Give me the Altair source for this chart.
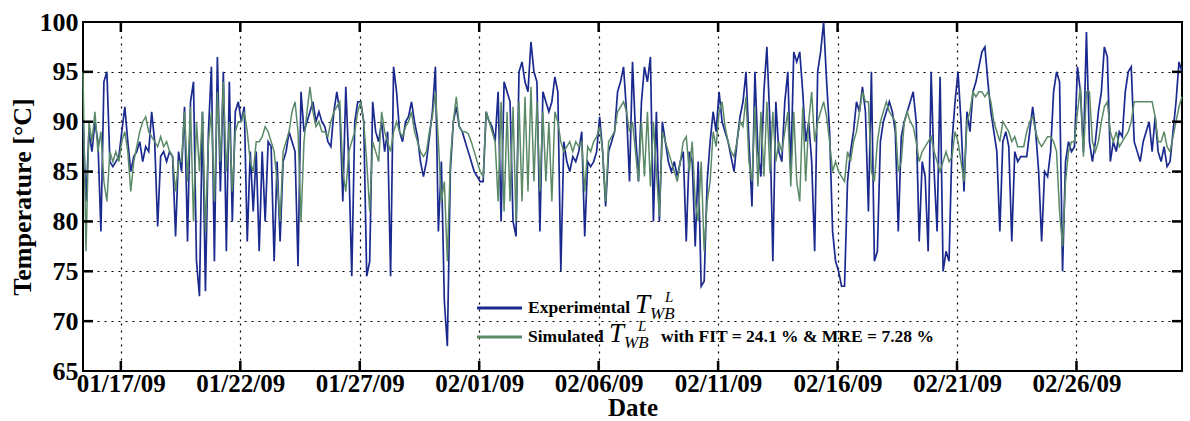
import altair as alt
import pandas as pd

# ---------------- data (3-hour samples starting 2009-01-15 10:00) ----------------
START = "2009-01-15T10:00:00"
STEP = "3h"

EXPERIMENTAL = [
    90, 82, 89, 87, 90, 88, 79, 94, 95, 86, 85.5, 86, 86.5, 89, 91.5, 88, 85, 86.5, 87, 88,
    86, 87.5, 87, 91, 88, 79.5, 86.5, 87, 86, 87, 86.5, 78.5, 87, 85, 91.5, 78, 92, 94, 76, 72.5,
    91, 73, 89, 95.5, 76, 96.5, 83, 95, 77, 94, 80, 91, 92,
    90, 91.5, 78, 87, 81, 87, 77, 87, 80, 88, 87.5, 76, 86, 78, 86, 87, 89, 88, 87, 75.5,
    93, 89, 90, 91, 92, 90, 91, 90, 89.5, 88, 87.5, 91, 93, 91, 82, 93.5, 86, 74.5, 90, 92,
    92, 90, 74.5, 76, 92, 89, 88, 90, 87, 89, 74.5, 95.5, 93,
    89, 88, 90, 90.5, 92, 90, 88.5, 86, 84.5, 86, 88.5, 91, 95.5, 79, 86, 72, 67.5, 85, 90, 91.5,
    89.5, 89, 88, 87, 86, 85, 84.5, 84, 84, 91, 90, 89.5, 88, 93, 80, 94, 93, 92, 80, 78.5,
    95, 96, 94, 93, 98, 95, 94, 79, 93, 92, 91, 92,
    94.5, 93, 75, 88, 86, 85, 86.5, 86, 87, 89, 78.5, 86, 85.5, 86, 87, 90.5, 87, 81.5, 87, 88,
    89, 93, 94, 95.5, 91, 84, 96, 89, 84, 92, 95.5, 94, 96.5, 80, 91, 80, 90, 88, 86, 85,
    86, 84.5, 86, 87, 78, 87, 86, 77.5, 86, 73.5, 74, 84, 88,
    91, 89, 93, 90, 89, 88, 86.5, 85, 88, 90.5, 92, 95, 88, 81.5, 95, 87, 84.5, 93, 97.5, 90,
    76, 92, 87, 86, 92, 95, 85, 97, 96, 97, 93, 88, 90, 86, 77, 95, 97, 100, 94, 89,
    79, 76, 75, 73.5, 73.5, 84, 87, 89, 92, 91, 93.5, 91,
    81, 95, 76, 77, 88, 90, 91, 92, 91, 89, 79, 88.5, 90, 91, 92, 93, 90, 78, 86, 84.5,
    77, 95, 85, 79, 94.5, 75, 77, 76, 88, 92, 95, 90, 83, 91, 89, 93, 94, 95.5, 97, 97.5,
    94, 91, 89, 87, 79, 88, 89, 87.5, 78, 87, 86, 86.5, 86.5,
    86.5, 89, 91.5, 89, 85, 78, 85, 84.5, 87, 93, 95, 94, 75, 86, 88, 87, 87.5, 95.5, 93, 87,
    99, 88, 86, 88, 91, 93, 97.5, 96.5, 86, 88, 87, 89, 88.5, 93, 95, 95.5, 88, 87, 86, 88,
    89, 90, 87, 90.5, 87, 86, 87.5, 85.5, 86, 89, 92, 96, 95,
]

SIMULATED = [
    95, 77, 90, 88, 91, 87, 89, 84, 82, 87, 86, 87, 86, 88, 89, 87, 83, 86, 87.5, 89,
    90, 90.5, 89, 88.5, 88, 87.5, 88.5, 87.5, 88, 87, 86.5, 83, 86, 86, 91, 84, 91.5, 80, 90, 85,
    91, 79, 88, 91, 82, 93, 86, 94, 85, 90, 83, 89, 90,
    90, 91, 89, 86, 85, 88, 88, 88.5, 89.5, 89, 88, 87, 84, 80, 87, 88, 89, 91, 92, 89,
    80, 88, 91, 93.5, 91, 89.5, 90, 89, 89, 88.5, 90, 91, 91.5, 92, 85, 83, 87, 88, 89, 91,
    92, 90, 86, 81, 88, 87, 86, 91, 89, 88, 87, 89, 90,
    89, 88.5, 89.5, 90, 91, 89, 88, 87, 86.5, 87, 89, 90.5, 93, 88, 82, 84, 76, 86, 90, 92.5,
    89.5, 89, 89, 88.8, 88, 87, 86, 85, 84.5, 91, 90, 89, 88, 82, 92, 81, 91, 82, 91.5, 80,
    92, 82, 92.5, 83, 93.5, 84, 92, 83, 91, 84, 90, 82,
    91, 90, 88, 87, 87.5, 88, 87, 88, 87.5, 88, 83, 87.5, 87, 88, 88.5, 89.5, 87, 82, 88, 88.5,
    89, 91, 91.5, 92, 91, 89, 90, 87, 84, 90, 84.5, 91, 83.5, 90, 85, 80.5, 89, 88, 87, 86,
    85, 84, 86, 88, 88.5, 85, 88, 82, 80, 86, 77, 82, 84,
    89, 87.5, 91, 92, 89.5, 88, 87, 86.5, 88, 90, 89.5, 92.5, 86, 84, 91.5, 83.5, 91, 84.5, 92, 85,
    91, 86, 88, 87, 89, 91, 83.5, 91, 84, 82, 91.5, 84, 90, 93, 88, 90, 91, 92, 90.5, 88,
    85, 86, 85, 84.5, 84, 87, 86, 88, 89, 91, 93, 92,
    92, 85, 84, 88, 90, 91, 92, 91, 90.5, 90, 85, 86, 90, 91, 90, 89.5, 88, 86, 87, 87.5,
    88, 88.5, 87, 86, 85, 86, 87, 86, 86.5, 89, 88, 86, 84, 90, 91, 93, 92.5, 93, 93, 92.5,
    93, 92, 90, 89, 88, 90, 89.5, 89, 88, 88.5, 87.5, 87.5, 87.5,
    89, 90, 90.5, 89, 88, 87.5, 88, 88.5, 88.5, 88, 87, 81, 77.5, 84, 87, 88, 88, 91, 93.5, 86.5,
    93, 93, 88, 87, 88, 90, 91.5, 92, 89, 88, 89, 87.5, 88, 88.5, 89, 90, 92, 92, 92, 92,
    92, 92, 92, 90.5, 88, 88, 89, 87.5, 87, 88.5, 90, 91.5, 92.5,
]

X_TICK_DATES = ["2009-01-17", "2009-01-22", "2009-01-27", "2009-02-01", "2009-02-06",
                "2009-02-11", "2009-02-16", "2009-02-21", "2009-02-26"]
Y_TICKS = [65, 70, 75, 80, 85, 90, 95, 100]

BLUE = "#1b2a8e"
GREEN = "#5b8a68"
FONT = "Liberation Serif"
W, H = 1099, 349

times = pd.date_range(START, periods=len(EXPERIMENTAL), freq=STEP)
df = pd.DataFrame({
    "time": times.strftime("%Y-%m-%dT%H:%M:%S"),
    "exp": EXPERIMENTAL,
    "sim": SIMULATED,
})


def dt(s):
    y, m, d = [int(v) for v in s.split("-")]
    return alt.DateTime(year=y, month=m, date=d)


x_scale = alt.Scale(domain=[alt.DateTime(year=2009, month=1, date=15, hours=10),
                            alt.DateTime(year=2009, month=3, date=2, hours=10)])
y_scale = alt.Scale(domain=[65, 100], nice=False, zero=False)

x_axis = alt.Axis(values=[dt(s) for s in X_TICK_DATES], format="%m/%d/%y",
                  title="Date", labelPadding=0, titlePadding=-1, labelFlush=False,
                  labelFontSize=25, titleFontSize=25)
y_axis = alt.Axis(values=Y_TICKS, title="Temperature [°C]", labelPadding=5, titlePadding=4)

X = alt.X("time:T", scale=x_scale, axis=x_axis)
Y = alt.Y("exp:Q", scale=y_scale, axis=y_axis)

base = alt.Chart(df)
exp_line = base.mark_line(color=BLUE, strokeWidth=1.7).encode(x=X, y=Y)
sim_line = base.mark_line(color=GREEN, strokeWidth=1.5).encode(
    x=X, y=alt.Y("sim:Q", scale=y_scale, axis=y_axis))

# inward ticks on all four sides
xt = pd.DataFrame({"time": [s + "T00:00:00" for s in X_TICK_DATES]})
yt = pd.DataFrame({"exp": Y_TICKS[1:-1]})
tick_style = dict(color="black", strokeWidth=2.5)
xt_bottom = alt.Chart(xt).mark_rule(**tick_style).encode(
    x=X, y=alt.value(H), y2=alt.value(H - 10))
xt_top = alt.Chart(xt).mark_rule(**tick_style).encode(
    x=X, y=alt.value(0), y2=alt.value(10))
yt_left = alt.Chart(yt).mark_rule(**tick_style).encode(
    y=Y, x=alt.value(0), x2=alt.value(10))
yt_right = alt.Chart(yt).mark_rule(**tick_style).encode(
    y=Y, x=alt.value(W), x2=alt.value(W - 10))

# legend drawn by hand (with sub/superscripts)
one = pd.DataFrame({"a": [0]})


def txt(text, x, y, size, style="normal", weight="bold"):
    return alt.Chart(one).mark_text(
        text=text, font=FONT, fontSize=size, fontStyle=style, fontWeight=weight,
        align="left", baseline="alphabetic", color="black",
    ).encode(x=alt.value(x), y=alt.value(y))


leg = [
    alt.Chart(one).mark_rule(color=BLUE, strokeWidth=3).encode(
        x=alt.value(394), x2=alt.value(439), y=alt.value(286)),
    alt.Chart(one).mark_rule(color=GREEN, strokeWidth=3).encode(
        x=alt.value(394), x2=alt.value(439), y=alt.value(315)),
    txt("Experimental", 445, 291, 17.5),
    txt("T", 552, 291, 27, "italic", "normal"),
    txt("L", 582, 280, 15, "italic", "normal"),
    txt("WB", 567, 297, 17, "italic", "normal"),
    txt("Simulated", 445, 320, 17.5),
    txt("T", 526, 320, 27, "italic", "normal"),
    txt("L", 555, 309, 15, "italic", "normal"),
    txt("WB", 541, 326, 17, "italic", "normal"),
    txt("with FIT = 24.1 % & MRE = 7.28 %", 578, 320, 17.5),
]

chart = alt.layer(
    exp_line, sim_line, xt_bottom, xt_top, yt_left, yt_right, *leg
).properties(
    width=W, height=H,
    autosize=alt.AutoSizeParams(type="none"),
    padding={"left": 83, "top": 22, "right": 8, "bottom": 50},
).configure_view(
    stroke="black", strokeWidth=2,
).configure_axis(
    labelFont=FONT, labelFontSize=26, labelFontWeight="bold", labelColor="black",
    titleFont=FONT, titleFontSize=26, titleFontWeight="bold", titleColor="black",
    domain=False, ticks=False,
    grid=True, gridColor="black", gridDash=[2, 5], gridWidth=1.2, gridOpacity=1,
)

chart.save("out.html", embed_options={"renderer": "svg", "actions": False})
